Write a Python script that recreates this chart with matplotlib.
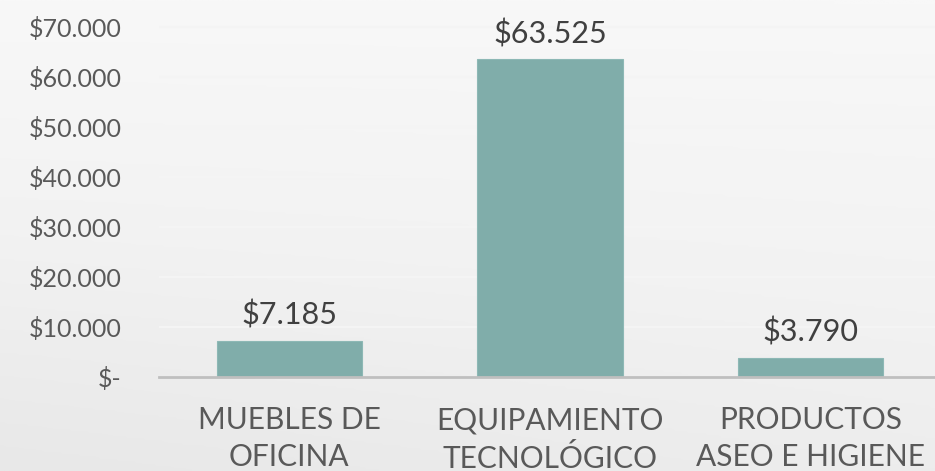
import numpy as np
import matplotlib.pyplot as plt
from matplotlib.colors import LinearSegmentedColormap

plt.rcParams["font.family"] = ["Lato", "DejaVu Sans"]

# ── Data ──────────────────────────────────────────────────────────────
categories = ["MUEBLES DE\nOFICINA", "EQUIPAMIENTO\nTECNOLÓGICO", "PRODUCTOS\nASEO E HIGIENE"]
values     = [7185, 63525, 3790]
yticks     = [0, 10000, 20000, 30000, 40000, 50000, 60000, 70000]

def money(v):
    if v == 0:
        return "$-"
    return "$" + f"{v:,.0f}".replace(",", ".")

# ── Figure + gradient background ──────────────────────────────────────
fig = plt.figure(figsize=(9.35, 4.71), dpi=100)
bg = fig.add_axes([0, 0, 1, 1], zorder=0)
cmap = LinearSegmentedColormap.from_list("bg", ["#F8F8F8", "#F2F2F2", "#E8E8E8"])
yy, xx = np.mgrid[0:1:200j, 0:1:200j]
grad = 0.75 * yy + 0.25 * (1 - xx) * yy
bg.imshow(grad, cmap=cmap, aspect="auto", extent=[0, 1, 1, 0], vmin=0, vmax=1)
bg.axis("off")

ax = fig.add_axes([159/935, 94/471, 776/935, 375/471], zorder=1)
ax.patch.set_alpha(0)

x = np.arange(len(categories))
bars = ax.bar(x, values, width=0.557, color="#80ADAA", edgecolor="#8DB8B5",
              linewidth=0.8, zorder=3)

for b, v in zip(bars, values):
    ax.annotate(money(v), (b.get_x() + b.get_width()/2, b.get_height()),
                xytext=(0, 8), textcoords="offset points",
                ha="center", va="bottom", fontsize=22, color="#404040")

ax.set_xlim(-0.5, 2.477)
ax.set_ylim(0, 75000)
ax.set_yticks(yticks)
ax.set_yticklabels([money(v) for v in yticks])
ax.set_xticks(x)
ax.set_xticklabels(categories, linespacing=1.4)

ax.tick_params(axis="y", length=0, pad=27, labelsize=18, labelcolor="#595959")
ax.tick_params(axis="x", length=0, pad=21, labelsize=21.5, labelcolor="#595959")

ax.grid(axis="y", color="#F4F4F4", linewidth=1.6, zorder=1)
for s in ["top", "right", "left"]:
    ax.spines[s].set_visible(False)
ax.spines["bottom"].set_color("#BFBFBF")
ax.spines["bottom"].set_linewidth(2)
ax.spines["bottom"].set_zorder(4)

plt.savefig("out.png", dpi=100)
